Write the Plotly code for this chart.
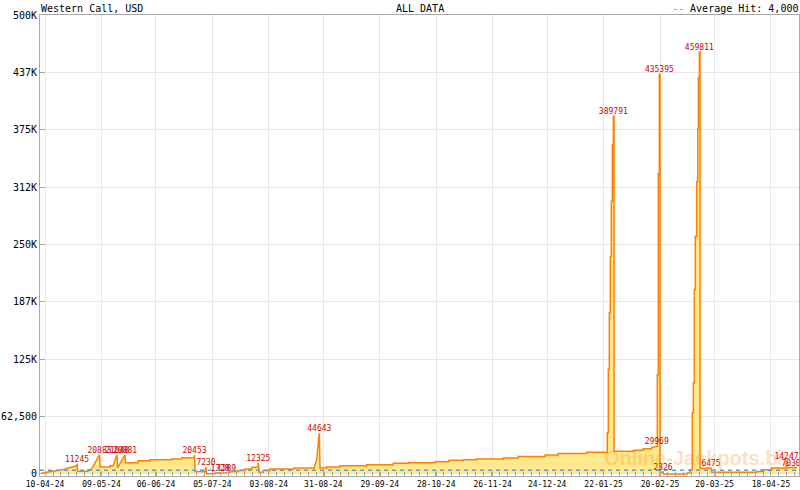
import pandas as pd
import plotly.graph_objects as go

# ---------------- data ----------------
start_date = "2024-04-10"

day_offset = [
    -2.06, 3.60, 8.73, 12.85, 16.18, 16.44, 16.70, 22.09, 22.09, 23.63,
    28.00, 28.26, 33.40, 33.40, 34.94, 36.99, 37.25, 41.10, 41.36, 47.78,
    47.78, 53.95, 53.95, 65.10, 65.10, 70.24, 70.24, 76.50, 76.81, 77.07,
    82.21, 82.21, 82.72, 82.98, 87.35, 87.35, 89.92, 90.17, 93.25, 93.51,
    95.05, 95.05, 99.16, 99.16, 102.76, 102.76, 106.36, 106.36, 109.44, 109.59,
    109.95, 112.01, 112.01, 115.61, 115.61, 127.94, 127.94, 138.21, 139.60, 140.11,
    140.63, 140.94, 141.30, 144.74, 144.74, 151.57, 151.57, 165.29, 165.29, 178.96,
    178.96, 186.66, 186.66, 200.38, 200.38, 207.57, 207.57, 214.92, 214.92, 221.80,
    221.80, 235.47, 235.47, 243.18, 243.18, 256.90, 256.90, 263.73, 263.73, 278.32,
    278.32, 288.60, 288.90, 288.90, 289.42, 289.42, 289.93, 289.93, 290.45, 290.45,
    290.96, 290.96, 291.47, 291.47, 291.99, 291.99, 292.35, 292.35,
    302.27, 302.27, 307.41, 307.41, 311.72, 311.72, 314.29, 314.60, 314.60, 315.11,
    315.11, 315.63, 315.63, 315.99, 315.99,
    317.53, 317.78, 329.86, 329.86, 331.40, 331.40, 332.58, 332.58, 333.10, 333.10,
    333.61, 333.61, 334.12, 334.12, 334.84, 334.84, 335.36, 335.36, 335.67, 335.67,
    336.18, 336.18, 336.54, 336.54, 342.19, 342.55, 345.12, 345.12,
    358.79, 358.79, 365.67, 365.67, 369.06, 369.06, 373.38, 373.38, 380.73, 380.98,
    381.24, 383.29, 386.38,
]

jackpot_usd = [
    800, 2500, 4500, 7000, 9000, 11245, 3000, 3000, 4500, 4500,
    20883, 7650, 7650, 9050, 9050, 21048, 6550, 20881, 12350, 12350,
    14500, 14500, 15600, 15600, 16400, 16400, 17800, 17800, 20453, 2800,
    2800, 3900, 7230, 300, 300, 1000, 1328, 800, 1289, 1750,
    1750, 2800, 2800, 3900, 3900, 5500, 5500, 7200, 7200, 12325,
    1750, 1750, 3900, 3900, 5500, 5500, 6550, 6550, 15600, 32000,
    39300, 44643, 6550, 6550, 7650, 7650, 9050, 9050, 10150, 10150,
    11600, 11600, 12350, 12350, 13400, 13400, 14850, 14850, 15600, 15600,
    16400, 16400, 17500, 17500, 19000, 19000, 20750, 20750, 22200, 22200,
    23600, 23600, 23600, 45000, 45000, 114000, 114000, 176000, 176000, 237000,
    237000, 297000, 297000, 359000, 359000, 389791, 389791, 24700,
    24700, 25800, 25800, 27600, 27600, 29000, 29969, 29969, 108000, 108000,
    327000, 327000, 435395, 435395, 1000,
    2326, 0, 0, 1100, 1100, 4700, 4700, 66600, 66600, 99400,
    99400, 201000, 201000, 259000, 259000, 318000, 318000, 376000, 376000, 431500,
    431500, 459811, 459811, 6000, 6475, 1750, 1750, 1100,
    1100, 1750, 1750, 2800, 2800, 4700, 4700, 6550, 6550, 14247,
    6550, 7030, 7030,
]

hit_values = [11245, 20883, 21048, 20881, 20453, 7230, 1328, 1289, 12325,
              44643, 389791, 29969, 435395, 2326, 459811, 6475, 14247, 7030]

average_hit = 4000

tick_dates = ["2024-04-10", "2024-05-09", "2024-06-06", "2024-07-05", "2024-08-03",
              "2024-08-31", "2024-09-29", "2024-10-28", "2024-11-26", "2024-12-24",
              "2025-01-22", "2025-02-20", "2025-03-20", "2025-04-18"]

y_tick_values = [0, 62500, 125000, 187500, 250000, 312500, 375000, 437500, 500000]
y_tick_text = ["0", "62,500", "125K", "187K", "250K", "312K", "375K", "437K", "500K"]

x_range = ["2024-04-07 10:00", "2025-05-02 09:30"]
y_range = [-2200, 500000]

# ---------------- figure ----------------
dates = pd.Timestamp(start_date) + pd.to_timedelta(day_offset, unit="D")

hit_idx = [jackpot_usd.index(h) for h in hit_values]
hit_dates = [dates[i] for i in hit_idx]

MONO = "DejaVu Sans Mono"
GRID = "#e8e8e8"
AXIS = "#a8a8a8"

fig = go.Figure()

fig.add_trace(go.Scatter(
    x=dates, y=jackpot_usd, mode="lines",
    line=dict(color="#ff8000", width=1.5),
    fill="tozeroy", fillcolor="#ffe98c",
    hoverinfo="x+y", showlegend=False,
))

fig.add_trace(go.Scatter(
    x=hit_dates, y=hit_values, mode="text",
    text=[str(v) for v in hit_values], textposition="top center",
    textfont=dict(family=MONO, size=8, color="#cc0000"),
    hoverinfo="skip", showlegend=False, cliponaxis=False,
))

fig.add_shape(type="line", xref="paper", x0=0, x1=1, yref="y",
              y0=average_hit, y1=average_hit,
              line=dict(color="#5a9fd0", width=1.5, dash="4px,4px"), layer="above")

fig.add_annotation(text="<b>Online-Jackpots.biz</b>", xref="paper", yref="paper",
                   x=0.7405, y=0.039, xanchor="left", yanchor="middle",
                   showarrow=False,
                   font=dict(family="Liberation Sans", size=20, color="rgba(255,140,40,0.28)"))

fig.add_annotation(text="Western Call, USD", xref="paper", yref="paper",
                   x=0, y=1, xanchor="left", yanchor="bottom", showarrow=False,
                   font=dict(family=MONO, size=10, color="#000"), borderpad=0)
fig.add_annotation(text="ALL DATA", xref="paper", yref="paper",
                   x=0.5, y=1, xanchor="center", yanchor="bottom", showarrow=False,
                   font=dict(family=MONO, size=10, color="#000"), borderpad=0)
fig.add_annotation(text="<span style='color:#5a9fd0'>--</span> Average Hit: 4,000",
                   xref="paper", yref="paper",
                   x=1, y=1, xanchor="right", yanchor="bottom", showarrow=False,
                   font=dict(family=MONO, size=10, color="#000"), borderpad=0)

fig.update_layout(
    width=800, height=490,
    margin=dict(l=40, r=1, t=15, b=14, autoexpand=False),
    paper_bgcolor="white", plot_bgcolor="white",
    font=dict(family=MONO, size=10, color="#000"),
    showlegend=False,
)

fig.update_xaxes(
    type="date", range=x_range, automargin=False,
    tickmode="array", tickvals=tick_dates, tickformat="%d-%m-%y",
    tickfont=dict(family=MONO, size=8, color="#000"),
    ticks="inside", ticklen=5, tickcolor=AXIS,
    showgrid=True, gridcolor=GRID, gridwidth=1,
    showline=True, linecolor=AXIS, linewidth=1, mirror=True,
    zeroline=False,
    minor=dict(ticks="inside", ticklen=4, tickcolor=AXIS, tickmode="linear",
               tick0=start_date, dtick=4.0989 * 86400000, showgrid=False),
)

fig.update_yaxes(
    range=y_range, automargin=False,
    tickmode="array", tickvals=y_tick_values, ticktext=y_tick_text,
    tickfont=dict(family=MONO, size=10, color="#000"),
    ticks="inside", ticklen=5, tickcolor=AXIS,
    showgrid=True, gridcolor=GRID, gridwidth=1,
    showline=True, linecolor=AXIS, linewidth=1, mirror=True,
    zeroline=False,
)

fig.write_html("out.html",
               config={"displayModeBar": False},
               post_script="document.body.style.margin='0px';document.body.style.overflow='hidden';")
